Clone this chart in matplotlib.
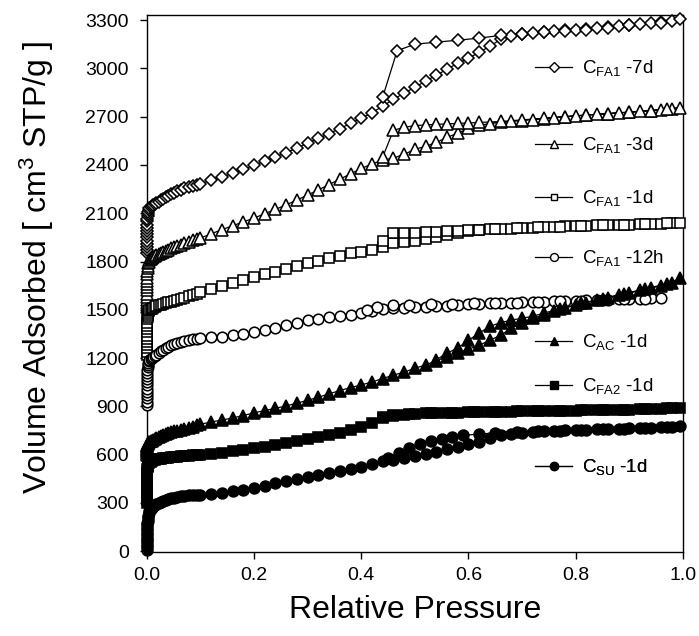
import matplotlib
matplotlib.use("Agg")
import matplotlib.pyplot as plt
from matplotlib.lines import Line2D

plt.rcParams['font.family'] = ['Liberation Sans', 'DejaVu Sans']
plt.rcParams['mathtext.fontset'] = 'custom'
plt.rcParams['mathtext.rm'] = 'Liberation Sans'
plt.rcParams['mathtext.it'] = 'Liberation Sans:italic'

# adsorption pressure points (P/P0)
P_ADS = [0.00001, 0.00002, 0.00004, 0.00007, 0.0001, 0.00015, 0.0002, 0.0003,
         0.0004, 0.0006, 0.0008, 0.001, 0.0015, 0.002, 0.003, 0.004, 0.005,
         0.007, 0.009,
         0.012, 0.015, 0.018, 0.022, 0.026, 0.03, 0.035, 0.04, 0.045, 0.05,
         0.056, 0.063, 0.07, 0.078, 0.086, 0.094,
         0.10, 0.12, 0.14, 0.16, 0.18, 0.20, 0.22, 0.24, 0.26, 0.28,
         0.30, 0.32, 0.34, 0.36, 0.38, 0.40, 0.42, 0.44, 0.46, 0.48,
         0.50, 0.52, 0.54, 0.56, 0.58, 0.60, 0.62, 0.64, 0.66, 0.68,
         0.70, 0.72, 0.74, 0.76, 0.78, 0.80, 0.82, 0.84, 0.86, 0.88,
         0.90, 0.92, 0.94, 0.96, 0.98, 0.995]

# C_FA1-7d
fa1_7d_ads = [1850, 1870, 1890, 1910, 1930, 1950, 1970, 1990, 2010, 2030,
              2050, 2065, 2080, 2095, 2110, 2120, 2130, 2140, 2146,
              2152, 2158, 2164, 2172, 2180, 2190, 2200, 2210, 2219, 2228,
              2237, 2246, 2254, 2262, 2270, 2278,
              2284, 2305, 2326, 2348, 2372, 2398, 2424, 2450, 2477, 2505,
              2535, 2565, 2595, 2626, 2658, 2690, 2725, 2765, 2808, 2846,
              2883, 2920, 2958, 2995, 3032, 3063, 3100, 3138, 3180, 3200,
              3213, 3220, 3226, 3231, 3236, 3241, 3246, 3251, 3256, 3262,
              3268, 3274, 3280, 3287, 3295, 3305]
fa1_7d_des_p = [0.96, 0.90, 0.86, 0.82, 0.78, 0.74, 0.70, 0.66, 0.62, 0.58,
                0.54, 0.50, 0.467, 0.44]
fa1_7d_des = [3285, 3268, 3252, 3240, 3232, 3225, 3213, 3205, 3188, 3175,
              3163, 3150, 3110, 2821]

# C_FA1-3d
fa1_3d_ads = [1520, 1540, 1560, 1580, 1600, 1620, 1640, 1660, 1680, 1700,
              1720, 1740, 1760, 1775, 1790, 1800, 1808, 1815, 1820,
              1826, 1832, 1838, 1845, 1852, 1858, 1866, 1874, 1881, 1888,
              1896, 1905, 1914, 1923, 1932, 1941,
              1946, 1972, 1998, 2022, 2046, 2070, 2097, 2124, 2152, 2182,
              2213, 2245, 2278, 2311, 2345, 2378, 2406, 2430, 2443, 2466,
              2497, 2516, 2540, 2572, 2597, 2628, 2646, 2657, 2664, 2670,
              2676, 2682, 2688, 2694, 2700, 2705, 2710, 2715, 2719, 2724,
              2728, 2733, 2738, 2743, 2749, 2756]
fa1_3d_des_p = [0.97, 0.94, 0.90, 0.86, 0.82, 0.78, 0.74, 0.70, 0.66, 0.62,
                0.60, 0.58, 0.56, 0.54, 0.52, 0.50, 0.48, 0.46, 0.44]
fa1_3d_des = [2746, 2738, 2728, 2719, 2710, 2700, 2690, 2680, 2670, 2664,
              2661, 2658, 2655, 2652, 2649, 2644, 2634, 2615, 2449]

# C_FA1-1d
fa1_1d_ads = [1220, 1240, 1260, 1280, 1300, 1320, 1340, 1360, 1380, 1400,
              1420, 1440, 1455, 1468, 1480, 1490, 1497, 1502, 1506,
              1511, 1516, 1521, 1527, 1532, 1537, 1542, 1546, 1550, 1554,
              1559, 1565, 1574, 1583, 1592, 1601,
              1608, 1627, 1646, 1665, 1684, 1703, 1720, 1737, 1754, 1772,
              1790, 1805, 1820, 1835, 1850, 1862, 1874, 1889, 1914, 1920,
              1930, 1942, 1955, 1965, 1980, 1990, 1995, 1999, 2002, 2005,
              2008, 2011, 2013, 2016, 2018, 2020, 2022, 2024, 2026, 2028,
              2030, 2032, 2034, 2036, 2039, 2042]
fa1_1d_des_p = [0.97, 0.93, 0.89, 0.85, 0.81, 0.77, 0.73, 0.69, 0.65, 0.62,
                0.60, 0.58, 0.56, 0.54, 0.52, 0.50, 0.48, 0.46, 0.44]
fa1_1d_des = [2037, 2033, 2029, 2025, 2021, 2017, 2012, 2007, 2001, 1996,
              1993, 1992, 1990, 1986, 1982, 1980, 1977, 1976, 1927]

# C_FA1-12h (stops at 0.96)
fa1_12h_ads = [910, 930, 950, 970, 990, 1010, 1030, 1050, 1070, 1090,
               1110, 1128, 1145, 1158, 1170, 1180, 1187, 1193, 1198,
               1206, 1214, 1222, 1232, 1242, 1252, 1262, 1272, 1280, 1287,
               1293, 1299, 1305, 1311, 1316, 1321,
               1324, 1328, 1334, 1342, 1351, 1362, 1375, 1390, 1405, 1420,
               1436, 1446, 1455, 1462, 1470, 1482, 1495, 1505, 1510, 1514,
               1518, 1520, 1523, 1526, 1530, 1535, 1538, 1540, 1542, 1544,
               1546, 1548, 1550, 1552, 1554, 1556, 1558, 1560, 1562, 1565,
               1567, 1570, 1573, 1576]
fa1_12h_des_p = [0.93, 0.89, 0.85, 0.81, 0.77, 0.73, 0.69, 0.65, 0.61, 0.57,
                 0.53, 0.49, 0.46, 0.43, 0.41]
fa1_12h_des = [1570, 1565, 1560, 1556, 1552, 1548, 1545, 1542, 1540, 1537,
               1534, 1532, 1530, 1516, 1498]

# C_AC-1d
ac_1d_ads = [600, 606, 612, 618, 624, 630, 636, 642, 647, 652,
             656, 660, 664, 668, 672, 676, 680, 684, 688,
             694, 699, 704, 710, 716, 722, 728, 734, 739, 745,
             750, 756, 761, 768, 775, 782,
             789, 803, 815, 828, 843, 860, 874, 888, 903, 920,
             938, 957, 978, 998, 1017, 1033, 1052, 1073, 1094, 1113,
             1137, 1157, 1185, 1206, 1231, 1255, 1280, 1311, 1342, 1386,
             1417, 1448, 1467, 1490, 1510, 1530, 1545, 1560, 1575, 1590,
             1605, 1620, 1635, 1650, 1668, 1695]
ac_1d_des_p = [0.97, 0.93, 0.89, 0.85, 0.81, 0.77, 0.74, 0.72, 0.70, 0.68,
               0.66, 0.64, 0.62, 0.60, 0.58, 0.56, 0.54]
ac_1d_des = [1662, 1630, 1600, 1570, 1540, 1505, 1479, 1460, 1448, 1436,
             1420, 1398, 1355, 1311, 1262, 1231, 1190]

# C_FA2-1d
fa2_1d_ads = [300, 320, 340, 360, 380, 400, 420, 440, 460, 480,
              495, 510, 522, 532, 540, 547, 552, 557, 561,
              565, 568, 570, 573, 575, 577, 579, 581, 583, 585,
              587, 589, 591, 593, 595, 596,
              597, 603, 611, 620, 630, 640, 650, 661, 672, 687,
              700, 712, 724, 736, 752, 771, 796, 827, 840, 848,
              853, 856, 858, 860, 862, 864, 865, 866, 867, 868,
              869, 870, 871, 872, 873, 874, 875, 876, 877, 879,
              880, 882, 884, 886, 889, 893]
fa2_1d_des_p = [0.97, 0.93, 0.89, 0.85, 0.81, 0.77, 0.73, 0.69, 0.65, 0.61,
                0.57, 0.53, 0.49, 0.46, 0.44]
fa2_1d_des = [888, 883, 880, 877, 875, 873, 871, 869, 867, 865,
              862, 859, 855, 848, 835]

# C_SU-1d
su_1d_ads = [10, 25, 40, 55, 70, 85, 100, 115, 130, 145,
             160, 175, 190, 205, 220, 235, 248, 260, 270,
             280, 288, 295, 302, 309, 315, 320, 325, 329, 333,
             337, 341, 344, 347, 349, 351,
             352, 355, 362, 372, 382, 393, 408, 422, 436, 450,
             462, 473, 484, 500, 512, 525, 540, 558, 565, 578,
             590, 603, 615, 634, 646, 668, 680, 705, 720, 730,
             736, 741, 745, 748, 751, 753, 755, 757, 759, 761,
             763, 765, 767, 769, 772, 776]
su_1d_des_p = [0.97, 0.93, 0.89, 0.85, 0.81, 0.77, 0.73, 0.69, 0.65, 0.62,
               0.59, 0.57, 0.55, 0.53, 0.51, 0.49, 0.47, 0.45]
su_1d_des = [770, 766, 762, 758, 754, 750, 745, 740, 735, 728,
             720, 710, 698, 685, 668, 640, 610, 580]

labels = [r'C$_\mathregular{FA1}$ -7d', r'C$_\mathregular{FA1}$ -3d',
          r'C$_\mathregular{FA1}$ -1d', r'C$_\mathregular{FA1}$ -12h',
          r'C$_\mathregular{AC}$ -1d', r'C$_\mathregular{FA2}$ -1d',
          r'C$_\mathregular{SU}$ -1d']

series = [
    (fa1_7d_ads, fa1_7d_des_p, fa1_7d_des, 'D', 'white', 6.6),
    (fa1_3d_ads, fa1_3d_des_p, fa1_3d_des, '^', 'white', 8.0),
    (fa1_1d_ads, fa1_1d_des_p, fa1_1d_des, 's', 'white', 6.7),
    (fa1_12h_ads, fa1_12h_des_p, fa1_12h_des, 'o', 'white', 7.6),
    (ac_1d_ads, ac_1d_des_p, ac_1d_des, '^', 'black', 8.0),
    (fa2_1d_ads, fa2_1d_des_p, fa2_1d_des, 's', 'black', 6.8),
    (su_1d_ads, su_1d_des_p, su_1d_des, 'o', 'black', 7.8),
]

# legend rows (axes fraction, vertical centre)
legend_y = [0.901, 0.758, 0.659, 0.547, 0.391, 0.309, 0.158]

fig = plt.figure(figsize=(6.99, 6.36), dpi=100)
ax = fig.add_axes([0.210, 0.132, 0.767, 0.844])

for (ads, des_p, des, mk, fc, ms), lab, ly in zip(series, labels, legend_y):
    x = P_ADS[:len(ads)] + des_p
    y = ads + des
    ax.plot(x, y, color='black', lw=0.9, marker=mk, ms=ms, mfc=fc,
            mec='black', mew=1.15, clip_on=False, zorder=3)
    h = Line2D([], [], color='black', lw=0.9, marker=mk, ms=ms * 0.75, mfc=fc,
               mec='black', mew=1.0)
    leg = ax.legend([h], [lab], loc='center left', bbox_to_anchor=(0.724, ly),
                    frameon=False, fontsize=13.5, handlelength=2.0,
                    handletextpad=0.5, borderpad=0, borderaxespad=0,
                    numpoints=1)
    ax.add_artist(leg)

ax.set_xlim(0, 1.0)
ax.set_ylim(-5, 3330)
ax.set_xticks([0.0, 0.2, 0.4, 0.6, 0.8, 1.0])
ax.set_xticklabels(['0.0', '0.2', '0.4', '0.6', '0.8', '1.0'])
ax.set_yticks(range(0, 3301, 300))
ax.tick_params(direction='out', length=5, width=1, labelsize=14, pad=6)
ax.tick_params(axis='y', pad=8)
for sp in ax.spines.values():
    sp.set_linewidth(1.0)

ax.set_xlabel('Relative Pressure', fontsize=23, labelpad=8)
ax.set_ylabel(r'Volume Adsorbed [ cm$^\mathregular{3}$ STP/g ]', fontsize=23)
ax.yaxis.set_label_coords(-0.17, 0.53)

fig.savefig('out.png', dpi=100)
